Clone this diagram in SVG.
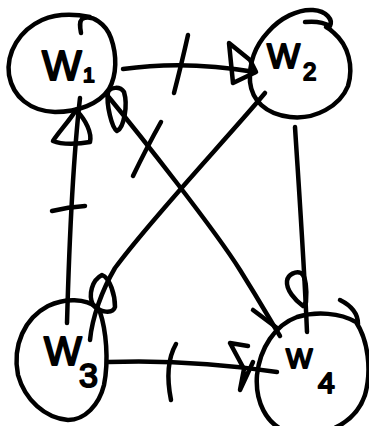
<svg xmlns="http://www.w3.org/2000/svg" width="369" height="426" viewBox="0 0 369 426">
<style>
.s{fill:none;stroke:#000;stroke-width:4.5;stroke-linecap:round;stroke-linejoin:round}
.t{font-family:"Liberation Sans","DejaVu Sans",sans-serif;fill:#000;stroke:#000;stroke-width:2;stroke-linejoin:round}
</style>
<rect width="369" height="426" fill="#fff"/>
<g id="connectors">
<path class="s" d="M123,69 Q185,60 255,72"/>
<path class="s" d="M229,43 L250,60 L256,72 L233,83 Z"/>
<path class="s" d="M188,35 Q182,62 174,93"/>
<path class="s" d="M67,323 C69,250 73,160 80,98"/>
<path class="s" d="M76,110 C70,120 58,133 53,141 C62,145 80,144 90,142 C92,133 86,120 76,110 Z"/>
<path class="s" d="M52,211 Q68,207 85,206"/>
<path class="s" d="M107,95 C140,135 215,230 240,270 S270,320 280,336"/>
<path class="s" d="M108,92 C106,105 112,128 117,131 C124,128 128,105 124,92 C120,86 111,87 108,92 Z"/>
<path class="s" d="M161,122 Q147,147 133,176"/>
<path class="s" d="M253,310 L277,328"/>
<path class="s" d="M295,127 C299,190 304,260 307,332"/>
<path class="s" d="M303,306 C295,300 286,290 287,281 C288,274 296,271 301,273 C306,276 307,290 306,302 Z"/>
<path class="s" d="M265,93 C230,135 150,220 115,268 C102,290 92,318 90,340"/>
<path class="s" d="M102,275 C110,278 115,295 115,307 C113,314 100,313 93,305 C88,295 92,280 102,275 Z"/>
<path class="s" d="M108,362 Q190,359 277,372"/>
<path class="s" d="M248,346 L230,343 L244,369 L240,390 L253,362"/>
<path class="s" d="M176,344 Q164,365 171,400"/>
</g>
<g id="w1">
<path class="s" d="M81,33 C80,27 79,22 82,19 C92,14 106,24 111,38 C117,55 117,75 109,89 C99,104 78,112 55,112 C30,111 13,97 9,75 C6,52 20,30 42,20 C58,13 75,14 90,17"/>
<text class="t" x="42" y="80" font-size="42">W<tspan x="83" y="82" font-size="21">1</tspan></text>
</g>
<g id="w2">
<path class="s" d="M305,22 C315,21 325,23 330,26 C333,20 327,11 313,10 C298,9 280,18 268,32 C255,46 249,64 250,82 C252,100 265,114 290,117 C315,120 340,106 348,86 C354,66 348,45 334,33 C330,29 328,28 326,27"/>
<text class="t" x="267" y="68" font-size="35">W<tspan x="303" y="80" font-size="24">2</tspan></text>
</g>
<g id="w3">
<path class="s" d="M100,312 C106,330 109,360 104,385 C99,405 85,420 68,420 C45,418 25,400 18,375 C12,345 25,318 48,306 C65,298 85,298 98,308"/>
<text class="t" x="44" y="365" font-size="40">W<tspan x="79" y="387" font-size="34">3</tspan></text>
</g>
<g id="w4">
<path class="s" d="M340,300 C350,305 358,313 358,324"/>
<path class="s" d="M356,322 C340,313 317,311 297,317 C275,325 260,348 257,375 C255,400 265,425 290,433 C320,440 355,425 365,395 C372,370 368,340 356,322"/>
<text class="t" x="286" y="368" font-size="28">W<tspan x="318" y="393" font-size="30">4</tspan></text>
</g>
</svg>
